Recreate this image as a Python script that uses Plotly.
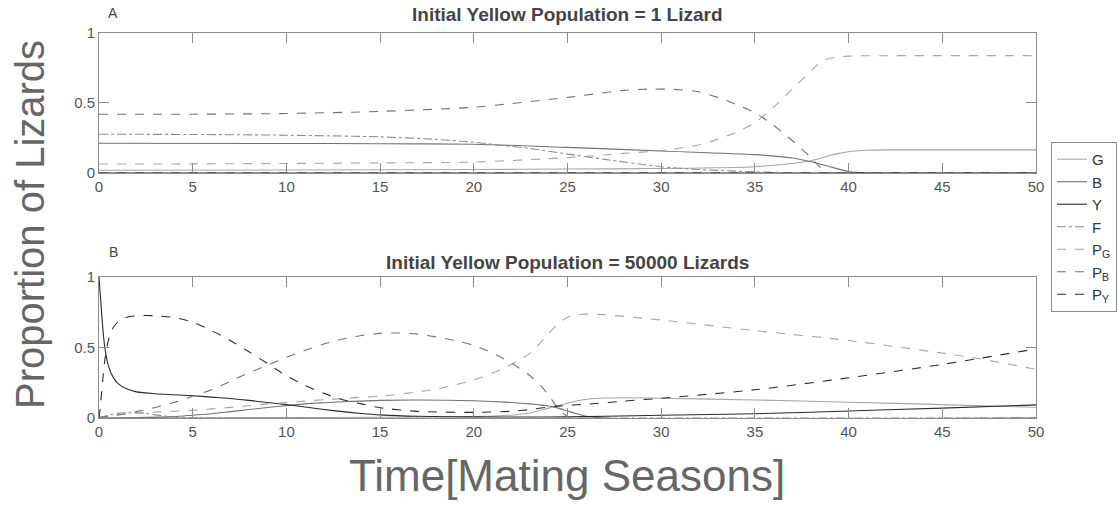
import plotly.graph_objects as go

# ---- Panel A: initial yellow population = 1 lizard ----
a_G_t = [0, 10, 20, 25, 30, 33, 35, 36, 37, 38, 38.5, 39, 39.5, 40, 41, 42, 50]
a_G = [0.02, 0.021, 0.025, 0.028, 0.032, 0.037, 0.045, 0.055, 0.068, 0.088, 0.105, 0.125, 0.14, 0.152, 0.162, 0.165, 0.165]

a_B_t = [0, 10, 15, 20, 25, 30, 35, 37, 38, 39, 40, 41, 50]
a_B = [0.212, 0.211, 0.209, 0.205, 0.183, 0.157, 0.131, 0.107, 0.08, 0.045, 0.01, 0.0, 0.0]

a_Y_t = [0, 50]
a_Y = [0.0, 0.0]

a_F_t = [0, 5, 10, 15, 18, 20, 21, 23, 25, 27, 30, 32, 34, 36, 38, 50]
a_F = [0.277, 0.275, 0.27, 0.258, 0.24, 0.22, 0.205, 0.175, 0.135, 0.097, 0.045, 0.025, 0.013, 0.005, 0.0, 0.0]

a_PG_t = [0, 5, 10, 15, 20, 25, 28, 30, 32, 33, 34, 35, 36, 37, 38, 38.5, 39, 40, 42, 50]
a_PG = [0.064, 0.065, 0.068, 0.072, 0.078, 0.11, 0.14, 0.16, 0.2, 0.24, 0.29, 0.36, 0.47, 0.6, 0.73, 0.79, 0.82, 0.835, 0.838, 0.838]

a_PB_t = [0, 5, 10, 15, 20, 25, 28, 29.5, 31, 32, 33, 34, 35, 36, 37, 37.5, 38, 38.5, 39, 40, 50]
a_PB = [0.42, 0.42, 0.425, 0.44, 0.47, 0.54, 0.59, 0.6, 0.595, 0.58, 0.54, 0.49, 0.43, 0.34, 0.23, 0.17, 0.11, 0.04, 0.005, 0.0, 0.0]

a_PY_t = [0, 50]
a_PY = [0.0, 0.0]

# ---- Panel B: initial yellow population = 50000 lizards ----
b_G_t = [0, 5, 10, 15, 20, 22, 23, 24, 25, 26, 27, 28, 30, 35, 40, 45, 50]
b_G = [0.0, 0.002, 0.003, 0.005, 0.01, 0.02, 0.035, 0.07, 0.105, 0.133, 0.142, 0.144, 0.14, 0.128, 0.112, 0.095, 0.076]

b_B_t = [0, 2, 4, 5, 6, 7, 8, 9, 10, 11, 12, 13, 14, 15, 17, 20, 22, 23, 24, 24.5, 25, 25.5, 26, 27, 50]
b_B = [0.0, 0.003, 0.01, 0.02, 0.03, 0.045, 0.06, 0.075, 0.088, 0.1, 0.108, 0.115, 0.12, 0.125, 0.128, 0.122, 0.11, 0.1, 0.085, 0.07, 0.05, 0.03, 0.012, 0.0, 0.0]

b_Y_t = [0, 0.1, 0.2, 0.3, 0.4, 0.5, 0.75, 1, 1.5, 2, 3, 4, 5, 6, 7, 8, 9, 10, 11, 12, 13, 14, 15, 17, 20, 23, 25, 27, 30, 35, 40, 45, 50]
b_Y = [1.0, 0.82, 0.64, 0.51, 0.43, 0.37, 0.29, 0.245, 0.205, 0.185, 0.172, 0.165, 0.158, 0.148, 0.138, 0.125, 0.11, 0.095, 0.078, 0.06, 0.045, 0.032, 0.022, 0.012, 0.008, 0.007, 0.008, 0.012, 0.02, 0.03, 0.05, 0.07, 0.093]

b_F_t = [0, 0.5, 1, 1.7, 2.5, 3, 4, 5, 6, 50]
b_F = [0.0, 0.02, 0.033, 0.038, 0.032, 0.022, 0.008, 0.002, 0.0, 0.0]

b_PG_t = [0, 0.5, 1, 2, 3, 4, 5, 6, 7, 8, 9, 10, 11, 12, 13, 14, 15, 16, 17, 18, 19, 20, 21, 22, 23, 24, 24.5, 25, 25.5, 26, 27, 30, 35, 40, 45, 47, 50]
b_PG = [0.0, 0.015, 0.025, 0.035, 0.042, 0.048, 0.054, 0.065, 0.075, 0.087, 0.1, 0.11, 0.12, 0.13, 0.138, 0.147, 0.155, 0.168, 0.185, 0.205, 0.235, 0.27, 0.32, 0.38, 0.46, 0.6, 0.67, 0.715, 0.733, 0.737, 0.732, 0.695, 0.62, 0.55, 0.46, 0.42, 0.345]

b_PB_t = [0, 1, 2, 3, 4, 5, 6, 7, 8, 9, 10, 11, 12, 13, 14, 15, 16, 17, 18, 19, 20, 21, 22, 23, 23.5, 24, 24.5, 25, 25.5, 50]
b_PB = [0.005, 0.02, 0.045, 0.075, 0.11, 0.155, 0.2, 0.26, 0.32, 0.375, 0.43, 0.48, 0.525, 0.56, 0.585, 0.6, 0.603, 0.595, 0.575, 0.55, 0.515, 0.46, 0.39, 0.3, 0.24, 0.16, 0.07, 0.01, 0.0, 0.0]

b_PY_t = [0, 0.1, 0.2, 0.3, 0.5, 0.75, 1, 1.5, 2, 2.5, 3, 4, 5, 6, 7, 8, 9, 10, 11, 12, 13, 14, 15, 17, 20, 22, 23, 24, 25, 26, 28, 30, 35, 40, 45, 50]
b_PY = [0.0, 0.12, 0.27, 0.4, 0.55, 0.64, 0.68, 0.715, 0.725, 0.727, 0.725, 0.713, 0.68, 0.62, 0.55, 0.47, 0.385, 0.3, 0.23, 0.175, 0.13, 0.1, 0.073, 0.047, 0.04, 0.048, 0.06, 0.078, 0.09, 0.097, 0.12, 0.14, 0.2, 0.285, 0.38, 0.49]

series_names = ["G", "B", "Y", "F", "P<sub>G</sub>", "P<sub>B</sub>", "P<sub>Y</sub>"]
series_colors = ["#a6a6a6", "#737373", "#2b2b2b", "#8c8c8c", "#a6a6a6", "#737373", "#2b2b2b"]
series_dash = ["solid", "solid", "solid", "dashdot", "dash", "dash", "dash"]

panel_a = [(a_G_t, a_G), (a_B_t, a_B), (a_Y_t, a_Y), (a_F_t, a_F),
           (a_PG_t, a_PG), (a_PB_t, a_PB), (a_PY_t, a_PY)]
panel_b = [(b_G_t, b_G), (b_B_t, b_B), (b_Y_t, b_Y), (b_F_t, b_F),
           (b_PG_t, b_PG), (b_PB_t, b_PB), (b_PY_t, b_PY)]

fig = go.Figure()

for i, (t, v) in enumerate(panel_a):
    fig.add_trace(go.Scatter(
        x=t, y=v, mode="lines", name=series_names[i], legendgroup=str(i),
        line=dict(color=series_colors[i], width=1.1, dash=series_dash[i],
                  shape="spline", smoothing=0.7),
        xaxis="x", yaxis="y", showlegend=True))

for i, (t, v) in enumerate(panel_b):
    fig.add_trace(go.Scatter(
        x=t, y=v, mode="lines", name=series_names[i], legendgroup=str(i),
        line=dict(color=series_colors[i], width=1.1, dash=series_dash[i],
                  shape="spline", smoothing=0.7),
        xaxis="x2", yaxis="y2", showlegend=False))

axis_font = dict(family="Liberation Sans, Arial, sans-serif", size=15, color="#555555")
x_common = dict(range=[0, 50], tickvals=[0, 5, 10, 15, 20, 25, 30, 35, 40, 45, 50],
                showline=True, linecolor="#8c8c8c", linewidth=1, mirror="ticks",
                ticks="inside", ticklen=10, tickcolor="#8c8c8c", showgrid=False,
                zeroline=False, tickfont=axis_font)
y_common = dict(range=[0, 1], tickvals=[0, 0.5, 1], ticktext=["0", "0.5", "1"],
                showline=True, linecolor="#8c8c8c", linewidth=1, mirror="ticks",
                ticks="inside", ticklen=10, tickcolor="#8c8c8c", showgrid=False,
                zeroline=False, tickfont=axis_font)

fig.update_layout(
    width=1118, height=506,
    margin=dict(l=99, r=82, t=33, b=88, autoexpand=False),
    paper_bgcolor="white", plot_bgcolor="white",
    font=dict(family="Liberation Sans, Arial, sans-serif", color="#555555"),
    xaxis=dict(domain=[0, 1], anchor="y", **x_common),
    yaxis=dict(domain=[0.6364, 1], anchor="x", **y_common),
    xaxis2=dict(domain=[0, 1], anchor="y2", **x_common),
    yaxis2=dict(domain=[0, 0.3662], anchor="x2", **y_common),
    legend=dict(x=1.016, y=0.717, xanchor="left", yanchor="top",
                bgcolor="white", bordercolor="#8c8c8c", borderwidth=1,
                font=dict(family="Liberation Sans, Arial, sans-serif", size=15, color="#333333"),
                tracegroupgap=0, itemwidth=30),
    annotations=[
        dict(text="<b>Initial Yellow Population = 1 Lizard</b>", x=0.5, y=15,
             xref="paper", yref="paper", showarrow=False,
             font=dict(size=19, color="#444444")),
        dict(text="<b>Initial Yellow Population = 50000 Lizards</b>", x=0.5, y=0,
             xref="paper", yref="paper", showarrow=False,
             font=dict(size=19, color="#444444")),
        dict(text="A", x=0.015, y=0, xref="paper", yref="paper", showarrow=False,
             font=dict(size=14, color="#444444")),
        dict(text="B", x=0.015, y=0, xref="paper", yref="paper", showarrow=False,
             font=dict(size=14, color="#444444")),
        dict(text="Proportion of Lizards", x=0, y=0, xref="paper", yref="paper",
             showarrow=False, textangle=-90,
             font=dict(size=40, color="#666666")),
        dict(text="Time[Mating Seasons]", x=0.5, y=0, xref="paper", yref="paper",
             showarrow=False, font=dict(size=44, color="#666666")),
    ],
)

# Place the text annotations in pixel terms relative to the plotting area
plot_w = 1118 - 99 - 82
plot_h = 506 - 33 - 88


def px_to_paper(px, py):
    return (px - 99) / plot_w, (506 - 88 - py) / plot_h


positions = [(567, 15), (567, 262), (113, 13), (113, 252), (30, 225), (567, 475)]
for ann, (px, py) in zip(fig.layout.annotations, positions):
    ax, ay = px_to_paper(px, py)
    ann.x = ax
    ann.y = ay
    ann.xanchor = "center"
    ann.yanchor = "middle"

fig.write_html("out.html")
